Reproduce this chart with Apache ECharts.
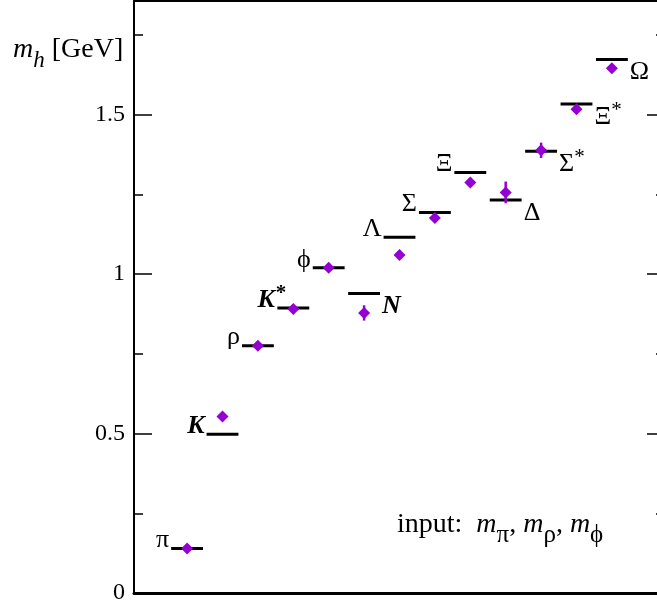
<!DOCTYPE html>
<html>
<head>
<meta charset="utf-8">
<script src="https://cdn.jsdelivr.net/npm/echarts@6/dist/echarts.min.js"></script>
<style>
  html, body { margin: 0; padding: 0; background: #fff; }
  #chart { width: 657px; height: 603px; }
</style>
</head>
<body>
<div id="chart"></div>
<script>
// hadrons along x (index + 1)
const hadrons = ['π', 'K', 'ρ', 'K*', 'ϕ', 'N', 'Λ', 'Σ', 'Ξ', 'Δ', 'Σ*', 'Ξ*', 'Ω']
const hadronLabels = ['{g|π}', '{b|K}', '{g|ρ}', '{b|K}{bs|*}', '{g|ϕ}', '{b|N}', '{g|Λ}', '{g|Σ}', '{g|Ξ}', '{g|Δ}', '{g|Σ}{s|*}', '{g|Ξ}{s|*}', '{g|Ω}']
const labelSide = ['L', 'L', 'L', 'L', 'L', 'R', 'L', 'L', 'L', 'R', 'R', 'R', 'R']
// experiment (black bars), GeV
const expMass = [0.1396, 0.4977, 0.7755, 0.8939, 1.0195, 0.9389, 1.1157, 1.1926, 1.3183, 1.232, 1.3846, 1.5334, 1.6725]
// lattice result (diamonds) and errors
const latMass = [0.1396, 0.553, 0.7755, 0.890, 1.0195, 0.878, 1.060, 1.176, 1.287, 1.256, 1.388, 1.517, 1.645]
const latErr = [0, 0.006, 0, 0.009, 0, 0.024, 0.010, 0.008, 0.007, 0.034, 0.024, 0.011, 0.010]
// y tick labels
const yTicks = [0, 0.5, 1, 1.5]

const serif = 'Liberation Serif'
const purple = '#9400d3'

const labelRich = {
  g: { fontFamily: serif, fontSize: 26, color: '#000', fill: '#000', lineHeight: 30, verticalAlign: 'bottom' },
  b: { fontFamily: serif, fontSize: 26, fontWeight: 'bold', fontStyle: 'italic', color: '#000', fill: '#000', lineHeight: 30, verticalAlign: 'bottom' },
  s: { fontFamily: serif, fontSize: 21, color: '#000', fill: '#000', lineHeight: 21, verticalAlign: 'top', padding: [0, 0, 9, 0] },
  bs: { fontFamily: serif, fontSize: 21, fontWeight: 'bold', color: '#000', fill: '#000', lineHeight: 21, verticalAlign: 'top', padding: [0, 0, 9, 1] },
}

const noteRich = {
  n: { fontFamily: serif, fontSize: 28, color: '#000', fill: '#000', lineHeight: 30, verticalAlign: 'top' },
  m: { fontFamily: serif, fontSize: 28, fontStyle: 'italic', color: '#000', fill: '#000', lineHeight: 30, verticalAlign: 'top' },
  sub: { fontFamily: serif, fontSize: 25, color: '#000', fill: '#000', lineHeight: 24, padding: [12, 0, 0, 0], verticalAlign: 'top' },
  subi: { fontFamily: serif, fontSize: 23, fontStyle: 'italic', color: '#000', fill: '#000', lineHeight: 22, padding: [13, 0, 0, 0], verticalAlign: 'top' },
}

const expData = expMass.map((v, i) => [i + 1, v])
const latData = latMass.map((v, i) => [i + 1, v])
const errData = latMass.map((v, i) => [i + 1, v - latErr[i], v + latErr[i]]).filter((d, i) => latErr[i] > 0)

const yRange = { min: 0, max: 1.856 }

let myChart = echarts.init(document.getElementById('chart'))
let option = {
  animation: false,
  grid: { left: 134, right: -8, top: 1, bottom: 10, outerBoundsMode: 'none', containLabel: false },
  xAxis: [
    {
      type: 'value', min: -0.5, max: 14.5, position: 'bottom',
      axisLine: { onZero: false, lineStyle: { color: '#000', width: 3 } },
      axisTick: { show: false }, axisLabel: { show: false }, splitLine: { show: false },
    },
    {
      type: 'value', min: -0.5, max: 14.5, position: 'top',
      axisLine: { onZero: false, lineStyle: { color: '#000', width: 2 } },
      axisTick: { show: false }, axisLabel: { show: false }, splitLine: { show: false },
    },
  ],
  yAxis: [
    {
      type: 'value', ...yRange, interval: 0.5, position: 'left',
      axisLine: { show: true, onZero: false, lineStyle: { color: '#000', width: 2 } },
      axisTick: { inside: true, length: 18, lineStyle: { color: '#000', width: 1.5 } },
      axisLabel: {
        margin: 9, color: '#000', fontFamily: serif, fontSize: 24,
        formatter: (v) => (yTicks.includes(v) ? String(v) : ''),
      },
      splitLine: { show: false },
    },
    {
      type: 'value', ...yRange, interval: 0.25, position: 'left',
      axisLine: { show: false, onZero: false },
      axisTick: { inside: true, length: 9, lineStyle: { color: '#000', width: 1.5 } },
      axisLabel: { show: false }, splitLine: { show: false },
    },
    {
      type: 'value', ...yRange, interval: 0.5, position: 'right',
      axisLine: { show: true, onZero: false, lineStyle: { color: '#000', width: 2 } },
      axisTick: { inside: true, length: 18, lineStyle: { color: '#000', width: 1.5 } },
      axisLabel: { show: false }, splitLine: { show: false },
    },
    {
      type: 'value', ...yRange, interval: 0.25, position: 'right',
      axisLine: { show: false, onZero: false },
      axisTick: { inside: true, length: 9, lineStyle: { color: '#000', width: 1.5 } },
      axisLabel: { show: false }, splitLine: { show: false },
    },
  ],
  graphic: [
    {
      type: 'text', left: 13, top: 36,
      style: { text: '{m|m}{subi|h}{n| [GeV]}', rich: noteRich },
    },
    {
      type: 'text', left: 397, top: 511,
      style: { text: '{n|input:  }{m|m}{sub|π}{n|, }{m|m}{sub|ρ}{n|, }{m|m}{sub|ϕ}', rich: noteRich },
    },
  ],
  series: [
    {
      // experimental values + names
      type: 'custom',
      xAxisIndex: 0, yAxisIndex: 0,
      data: expData,
      z: 2,
      renderItem: (params, api) => {
        const i = params.dataIndex
        const x = api.value(0)
        const y = api.value(1)
        const p0 = api.coord([x - 0.45, y])
        const p1 = api.coord([x + 0.45, y])
        const left = labelSide[i] === 'L'
        const sup = hadrons[i].indexOf('*') >= 0
        const tx = left ? p0[0] - 2 + (sup ? 11 : 0) : p1[0] + 2
        const ty = left ? p0[1] + 5 : p0[1] + 26
        return {
          type: 'group',
          children: [
            {
              type: 'line',
              shape: { x1: p0[0], y1: p0[1], x2: p1[0], y2: p1[1] },
              style: { stroke: '#000', lineWidth: 3 },
            },
            {
              type: 'text',
              style: {
                text: hadronLabels[i], x: tx, y: ty,
                align: left ? 'right' : 'left', textAlign: left ? 'right' : 'left',
                verticalAlign: 'bottom', textVerticalAlign: 'bottom',
                rich: labelRich,
              },
            },
          ],
        }
      },
    },
    {
      // lattice error bars
      type: 'custom',
      xAxisIndex: 0, yAxisIndex: 0,
      data: errData,
      z: 3,
      renderItem: (params, api) => {
        const lo = api.coord([api.value(0), api.value(1)])
        const hi = api.coord([api.value(0), api.value(2)])
        return {
          type: 'line',
          shape: { x1: lo[0], y1: lo[1], x2: hi[0], y2: hi[1] },
          style: { stroke: purple, lineWidth: 2.5 },
        }
      },
    },
    {
      type: 'scatter',
      xAxisIndex: 0, yAxisIndex: 0,
      data: latData,
      symbol: 'diamond',
      symbolSize: [12, 12],
      itemStyle: { color: purple, opacity: 1 },
      z: 4,
    },
  ],
}
myChart.setOption(option)
</script>
</body>
</html>
